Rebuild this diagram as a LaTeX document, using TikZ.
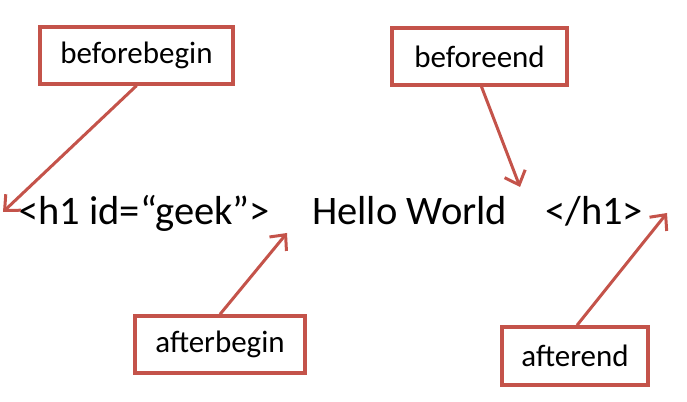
\documentclass[tikz,border=0pt]{standalone}
\usepackage{fontspec}
\setmainfont{Carlito}
\usetikzlibrary{arrows.meta}
\definecolor{boxred}{HTML}{C4534A}
\begin{document}
\begin{tikzpicture}[x=1pt,y=1pt,
  lbl/.style={draw=boxred, line width=3.4pt, fill=white, inner sep=0pt, font=\fontsize{31}{34}\selectfont},
  code/.style={anchor=base west, inner sep=0pt, font=\fontsize{40.5}{44}\selectfont},
  ptr/.style={draw=boxred, line width=3pt, -{Straight Barb[length=12pt,width=22pt,line width=3pt]}}]
\useasboundingbox (0,0) rectangle (687,401);
\node[code] (open) at (18,176) {<h1 id=“geek”>};
\node[code] (hello) at (312,176) {Hello World};
\node[code] (close) at (545,176) {</h1>};
\node[lbl, minimum width=193pt, minimum height=57pt] (bb) at (136.5,345.5) {beforebegin};
\node[lbl, minimum width=175pt, minimum height=57pt] (be) at (479.5,344.5) {beforeend};
\node[lbl, minimum width=170pt, minimum height=57pt] (ab) at (220,56.5) {afterbegin};
\node[lbl, minimum width=146pt, minimum height=58pt] (ae) at (575,45) {afterend};
\coordinate (tbb) at (3,189);
\coordinate (tbe) at (520,214);
\coordinate (tab) at (287,168);
\coordinate (tae) at (667,188);
\draw[ptr] (bb.south) -- (tbb);
\draw[ptr] ([xshift=2pt]be.south) -- (tbe);
\draw[ptr] (ab.north) -- (tab);
\draw[ptr] ([xshift=2pt]ae.north) -- (tae);
\end{tikzpicture}
\end{document}
